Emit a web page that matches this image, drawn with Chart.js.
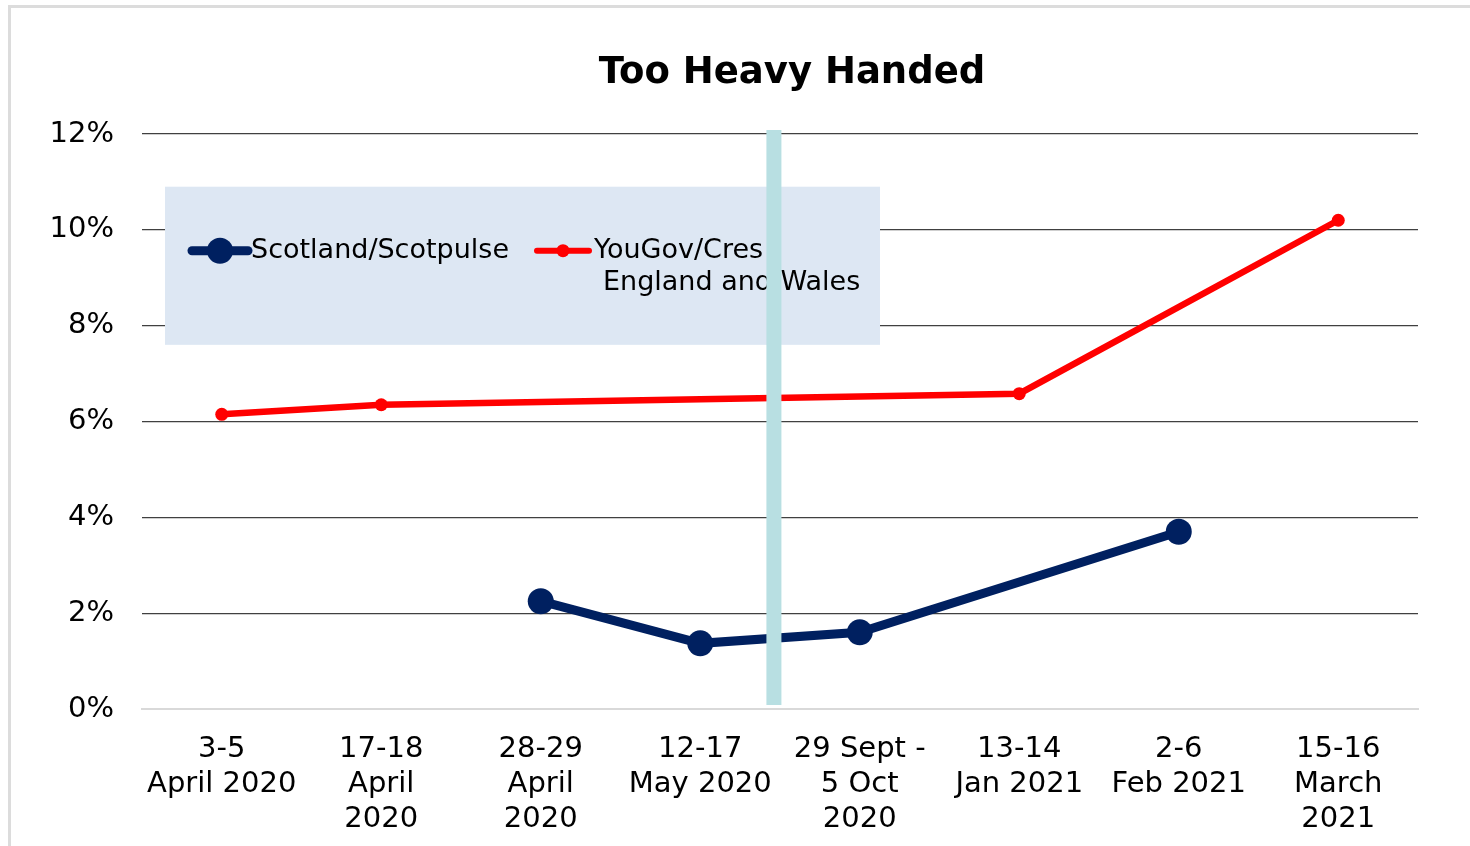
<!DOCTYPE html>
<html>
<head>
<meta charset="utf-8">
<script src="https://cdn.jsdelivr.net/npm/chart.js@4/dist/chart.umd.min.js"></script>
<style>
  body { margin: 0; background: #fff; }
  #frame { position: absolute; left: 8px; top: 5px; width: 1480px; height: 860px;
           border-top: 3px solid #dcdcdc; border-left: 3px solid #dcdcdc; }
  #wrap { position: absolute; left: 0; top: 0; width: 1470px; height: 846px; }
</style>
</head>
<body>
<div id="frame"></div>
<div id="wrap"><canvas id="myChart" width="1470" height="846"></canvas></div>
<script>
var categories = [
  ["3-5", "April 2020"],
  ["17-18", "April", "2020"],
  ["28-29", "April", "2020"],
  ["12-17", "May 2020"],
  ["29 Sept -", "5 Oct", "2020"],
  ["13-14", "Jan 2021"],
  ["2-6", "Feb 2021"],
  ["15-16", "March", "2021"]
];
var scotlandValues = [null, null, 2.25, 1.37, 1.6, null, 3.7, null];
var yougovValues = [6.15, 6.35, null, null, null, 6.58, null, 10.2];
var yTicks = [0, 2, 4, 6, 8, 10, 12];

var font = "'DejaVu Sans', Verdana, sans-serif";

// title, legend box and the teal divider
var extras = {
  id: "extras",
  beforeDatasetsDraw: function (chart) {
    var ctx = chart.ctx;
    var a = chart.chartArea;
    var ys = chart.scales.y;
    ctx.save();
    ctx.fillStyle = "#dde7f3";
    var top = ys.getPixelForValue(10.9), bot = ys.getPixelForValue(7.6);
    ctx.fillRect(a.left + 23, top, 715, bot - top);

    var ly = top + 64;
    // scotland marker
    ctx.strokeStyle = "#002060";
    ctx.lineWidth = 9;
    ctx.lineCap = "round";
    ctx.beginPath(); ctx.moveTo(a.left + 50, ly); ctx.lineTo(a.left + 106, ly); ctx.stroke();
    ctx.fillStyle = "#002060";
    ctx.beginPath(); ctx.arc(a.left + 78, ly, 13, 0, Math.PI * 2); ctx.fill();
    // yougov marker
    ctx.strokeStyle = "#ff0000";
    ctx.fillStyle = "#ff0000";
    ctx.lineWidth = 6;
    ctx.beginPath(); ctx.moveTo(a.left + 395, ly); ctx.lineTo(a.left + 447, ly); ctx.stroke();
    ctx.beginPath(); ctx.arc(a.left + 421, ly, 6.5, 0, Math.PI * 2); ctx.fill();

    ctx.fillStyle = "#000";
    ctx.font = "27px " + font;
    ctx.textBaseline = "middle";
    ctx.textAlign = "left";
    ctx.fillText("Scotland/Scotpulse", a.left + 109, ly);
    ctx.fillText("YouGov/Cres", a.left + 452, ly);
    ctx.fillText("England and Wales", a.left + 461, ly + 32);
    ctx.restore();
  },
  afterDatasetsDraw: function (chart) {
    var ctx = chart.ctx;
    var a = chart.chartArea;
    var xs = chart.scales.x;
    var x0 = xs.getPixelForValue(3), x1 = xs.getPixelForValue(4);
    var cx = x0 + (x1 - x0) * 0.465;
    ctx.save();
    ctx.fillStyle = "#b8dfe2";
    ctx.fillRect(cx - 8, a.top - 4, 15, a.bottom - a.top);
    ctx.fillStyle = "#000";
    ctx.font = "bold 37px " + font;
    ctx.textAlign = "center";
    ctx.textBaseline = "middle";
    ctx.fillText("Too Heavy Handed", (a.left + a.right) / 2 + 12, 73);
    ctx.restore();
  }
};

new Chart("myChart", {
  type: "line",
  data: {
    labels: categories,
    datasets: [
      {
        label: "Scotland/Scotpulse",
        data: scotlandValues,
        borderColor: "#002060",
        backgroundColor: "#002060",
        borderWidth: 9,
        pointRadius: 13,
        pointBorderWidth: 0,
        spanGaps: true
      },
      {
        label: "YouGov/Cres England and Wales",
        data: yougovValues,
        borderColor: "#ff0000",
        backgroundColor: "#ff0000",
        borderWidth: 6.5,
        pointRadius: 6.5,
        pointBorderWidth: 0,
        spanGaps: true
      }
    ]
  },
  options: {
    responsive: false,
    animation: false,
    layout: { padding: { left: 0, right: 52, top: 134, bottom: 0 } },
    plugins: {
      legend: { display: false },
      title: { display: false },
      tooltip: { enabled: false }
    },
    scales: {
      x: {
        offset: true,
        grid: { display: false, drawTicks: false },
        border: { display: true, color: "#d9d9d9", width: 2 },
        ticks: {
          color: "#000",
          font: { family: font, size: 29, lineHeight: 1.2 },
          padding: 23,
          maxRotation: 0,
          autoSkip: false
        },
        afterFit: function (s) { s.height = 137; }
      },
      y: {
        min: 0,
        max: 12,
        afterBuildTicks: function (s) {
          s.ticks = yTicks.map(function (v) { return { value: v }; });
        },
        grid: { color: "#404040", lineWidth: 1.2, drawTicks: false },
        border: { display: false },
        ticks: {
          color: "#000",
          font: { family: font, size: 29 },
          padding: 28,
          callback: function (v) { return v + "%"; }
        },
        afterFit: function (s) { s.width = 142; }
      }
    }
  },
  plugins: [extras]
});
</script>
</body>
</html>
